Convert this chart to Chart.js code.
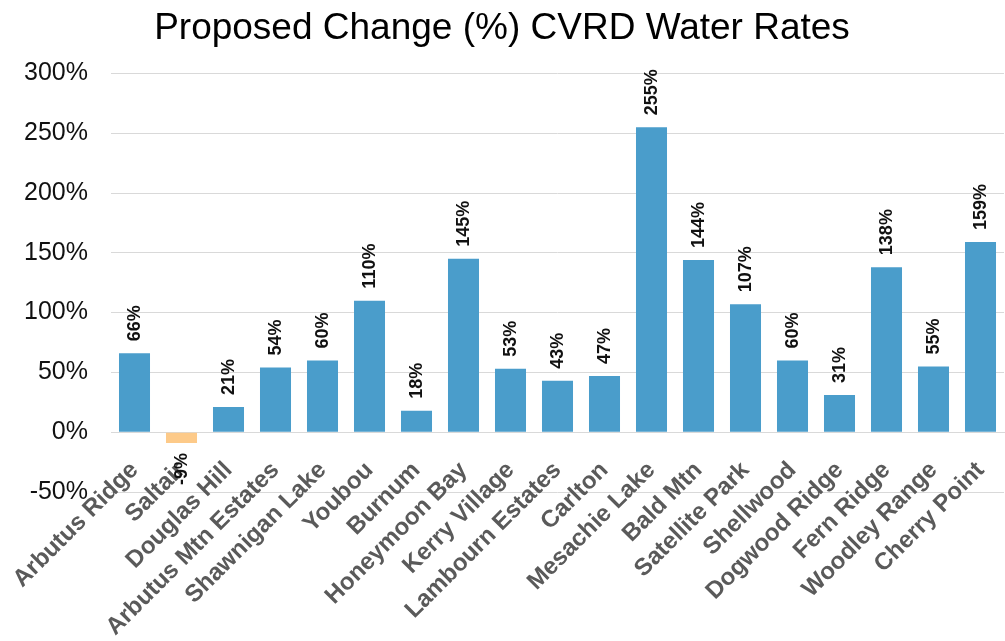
<!DOCTYPE html>
<html>
<head>
<meta charset="utf-8">
<title>Proposed Change (%) CVRD Water Rates</title>
<script src="https://cdn.jsdelivr.net/npm/chart.js@4/dist/chart.umd.min.js"></script>
<style>
  html, body { margin: 0; padding: 0; background: #fff; }
  #chart { display: block; }
</style>
</head>
<body>
<canvas id="chart" width="1005" height="641"></canvas>
<script>
// data
var systems = ['Arbutus Ridge', 'Saltair', 'Douglas Hill', 'Arbutus Mtn Estates', 'Shawnigan Lake',
    'Youbou', 'Burnum', 'Honeymoon Bay', 'Kerry Village', 'Lambourn Estates', 'Carlton',
    'Mesachie Lake', 'Bald Mtn', 'Satellite Park', 'Shellwood', 'Dogwood Ridge', 'Fern Ridge',
    'Woodley Range', 'Cherry Point'];
var change = [66, -9, 21, 54, 60, 110, 18, 145, 53, 43, 47, 255, 144, 107, 60, 31, 138, 55, 159];
var yTicks = [-50, 0, 50, 100, 150, 200, 250, 300];

var fontFam = '"Liberation Sans", Arial, Helvetica, sans-serif';

// value labels, turned on their side like in the original
var barLabels = {
    id: 'barLabels',
    afterDatasetsDraw: function (chart) {
        var ctx = chart.ctx;
        var meta = chart.getDatasetMeta(0);
        ctx.save();
        ctx.font = 'bold 18px ' + fontFam;
        ctx.fillStyle = '#111';
        ctx.textBaseline = 'middle';
        meta.data.forEach(function (bar, i) {
            var v = change[i];
            ctx.save();
            if (v >= 0) {
                ctx.translate(bar.x, bar.y - 12);
                ctx.rotate(-Math.PI / 2);
                ctx.textAlign = 'left';
            } else {
                ctx.translate(bar.x, bar.y + 10);
                ctx.rotate(-Math.PI / 2);
                ctx.textAlign = 'right';
            }
            ctx.fillText(v + '%', 0, 1);
            ctx.restore();
        });
        ctx.restore();
    }
};

var ctx = document.getElementById('chart').getContext('2d');
var myChart = new Chart(ctx, {
    type: 'bar',
    data: {
        labels: systems,
        datasets: [{
            label: 'Proposed change',
            data: change,
            backgroundColor: change.map(function (v) { return v < 0 ? '#fdca89' : '#4a9dcb'; }),
            borderWidth: 0,
            barPercentage: 0.66,
            categoryPercentage: 1
        }]
    },
    plugins: [barLabels],
    options: {
        responsive: false,
        animation: false,
        layout: {
            padding: { left: 0, right: 1, top: 0, bottom: 149 }
        },
        plugins: {
            legend: { display: false },
            tooltip: { enabled: false },
            title: {
                display: true,
                text: 'Proposed Change (%) CVRD Water Rates',
                color: '#000',
                font: { family: fontFam, size: 37, weight: 'normal' },
                padding: { top: 7, bottom: 22 }
            }
        },
        scales: {
            x: {
                position: { y: 0 },
                grid: { display: false, drawTicks: false },
                border: { display: true, color: '#d9d9d9' },
                ticks: {
                    autoSkip: false,
                    minRotation: 45,
                    maxRotation: 45,
                    padding: 24,
                    color: '#5a5a5a',
                    font: { family: fontFam, size: 24, weight: 'bold' }
                },
                afterFit: function (scale) {
                    scale.height = 1;
                    scale.paddingLeft = 0;
                    scale.paddingRight = 0;
                }
            },
            y: {
                min: -50,
                max: 300,
                afterBuildTicks: function (scale) {
                    scale.ticks = yTicks.map(function (v) { return { value: v }; });
                },
                grid: { color: '#d9d9d9', drawTicks: false },
                border: { display: false },
                ticks: {
                    padding: 23,
                    color: '#111',
                    font: { family: fontFam, size: 25 },
                    callback: function (v) { return v + '%'; }
                },
                afterFit: function (scale) {
                    scale.width = 111;
                }
            }
        }
    }
});
</script>
</body>
</html>
